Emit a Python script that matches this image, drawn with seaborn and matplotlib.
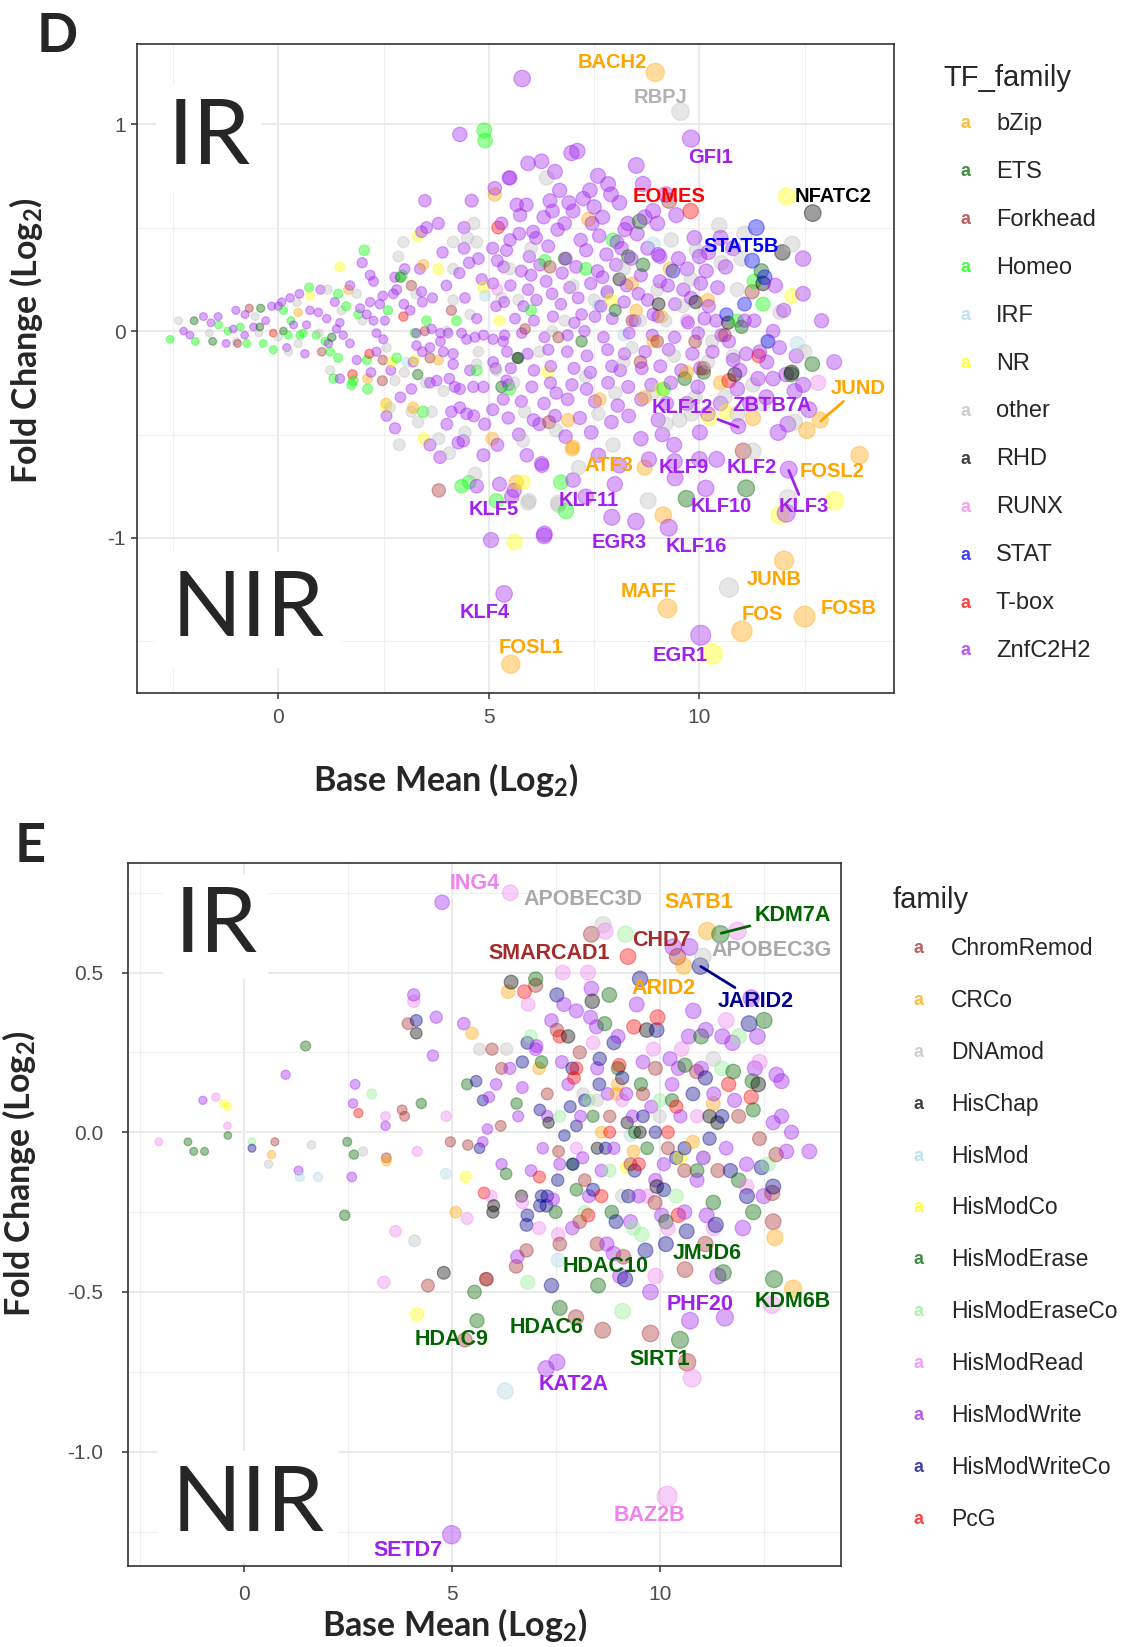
import numpy as np
import pandas as pd
import matplotlib
matplotlib.use("Agg")
import matplotlib.pyplot as plt
import seaborn as sns

sns.set_theme(style="white")
plt.rcParams['font.family'] = ['Liberation Sans', 'DejaVu Sans']
plt.rcParams['mathtext.fontset'] = 'custom'
plt.rcParams['mathtext.rm'] = 'Lato:bold'
plt.rcParams['mathtext.it'] = 'Lato:bold'
plt.rcParams['mathtext.bf'] = 'Lato:bold'

# ------------------------------------------------------------------ Panel D data
d_families = ["bZip", "ETS", "Forkhead", "Homeo", "IRF", "NR", "other", "RHD",
              "RUNX", "STAT", "T-box", "ZnfC2H2"]
d_colors = ["#FFA500", "#006400", "#A52A2A", "#00FF00", "#ADD8E6", "#FFFF00",
            "#BEBEBE", "#000000", "#EE82EE", "#0000FF", "#FF0000", "#A020F0"]

d_bzip = [(8.95, 1.25), (12.87, -0.43), (8.70, -0.66), (13.80, -0.60), (9.24, -1.34),
          (12.01, -1.11), (11.01, -1.45), (12.50, -1.38), (5.52, -1.61),
          (0.47, 0.09), (1.66, 0.20), (2.12, -0.23), (2.56, -0.35), (3.20, -0.37),
          (3.44, 0.32), (3.80, -0.14), (5.14, 0.66), (5.08, -0.52), (5.65, -0.73),
          (6.99, -0.56), (7.37, 0.54), (6.88, -0.43), (6.98, -0.57), (8.70, -0.32),
          (7.63, -0.33), (9.14, -0.89), (10.50, -0.25), (11.27, -0.42), (12.55, -0.48),
          (9.10, 0.07), (8.40, 0.23), (8.90, -0.05), (9.70, -0.20), (8.50, 0.10),
          (9.30, 0.30), (10.20, 0.15)]
d_ets = [(-2.00, 0.05), (-1.56, -0.05), (-0.42, 0.11), (-0.44, 0.02), (0.12, 0.00),
         (1.27, -0.03), (2.90, 0.26), (3.31, -0.21), (5.30, -0.27), (5.70, -0.13),
         (8.58, 0.53), (8.31, 0.36), (8.66, 0.32), (11.47, 0.29), (9.65, -0.23),
         (12.68, -0.16), (12.18, -0.21), (11.11, -0.76), (9.69, -0.81), (7.20, -0.05),
         (8.00, 0.10), (6.80, 0.35), (10.10, -0.20), (11.00, 0.02)]
d_forkhead = [(-0.97, -0.06), (-0.69, 0.11), (1.03, -0.10), (2.47, -0.24), (2.48, -0.14),
              (3.16, 0.22), (3.48, 0.00), (3.60, -0.13), (4.11, 0.10), (3.81, -0.77),
              (6.45, 0.31), (6.43, -0.44), (11.25, 0.19), (11.04, -0.58), (8.40, 0.05),
              (9.00, -0.05), (8.60, -0.15), (9.90, -0.05), (10.10, -0.18), (5.86, 0.01),
              (6.65, -0.03), (9.28, 0.63), (10.60, -0.02)]
d_homeo = [(-2.57, -0.04), (-1.97, -0.05), (-1.42, 0.03), (-1.20, 0.00), (-0.90, 0.02),
           (-0.75, -0.06), (-0.36, -0.06), (-0.12, -0.09), (0.12, 0.10), (0.24, -0.02),
           (0.30, 0.05), (0.51, -0.02), (0.59, -0.01), (0.73, 0.21), (0.90, -0.02),
           (1.11, -0.05), (1.23, -0.10), (1.42, 0.18), (1.61, 0.12), (1.42, -0.13),
           (1.31, -0.23), (1.74, -0.26), (1.78, -0.24), (1.90, 0.08), (2.12, -0.28),
           (2.10, -0.14), (2.04, 0.39), (2.60, 0.10), (2.81, -0.13), (2.94, 0.27),
           (3.24, -0.01), (3.52, 0.05), (4.23, 0.05), (4.71, -0.19), (3.44, -0.39),
           (4.35, -0.75), (4.53, -0.73), (5.18, -0.82), (6.71, -0.73), (6.83, -0.87),
           (4.89, 0.97), (4.91, 0.92), (6.33, 0.34), (7.30, 0.30), (7.95, 0.44),
           (9.15, -0.28), (11.30, 0.24), (11.51, 0.13), (10.89, 0.05), (6.00, 0.10),
           (5.50, -0.28)]
d_irf = [(3.05, -0.15), (4.91, 0.17), (8.90, 0.42), (12.32, -0.06), (8.20, -0.02), (7.60, 0.12)]
d_nr = [(0.75, 0.17), (1.46, 0.31), (2.69, -0.15), (2.56, -0.37), (3.32, 0.46), (3.80, 0.30),
        (3.24, -0.14), (3.46, -0.52), (4.87, 0.21), (5.25, 0.05), (5.61, -1.02), (5.81, -0.73),
        (12.07, 0.65), (12.20, 0.17), (10.64, -0.39), (10.24, -0.42), (13.21, -0.82),
        (11.91, -0.89), (10.30, -1.56), (7.90, 0.15), (6.40, -0.20), (9.10, -0.28)]
d_other = [(-2.37, 0.05), (-1.64, -0.01), (-0.55, 0.07), (-0.47, -0.01), (0.44, 0.14),
           (0.24, -0.10), (0.47, -0.06), (0.97, -0.01), (1.17, 0.20), (1.23, -0.19),
           (1.86, 0.18), (2.57, -0.08), (2.77, -0.24), (2.65, -0.37), (2.85, 0.36),
           (2.97, 0.43), (3.27, 0.18), (2.99, -0.20), (2.87, -0.55), (3.16, -0.39),
           (3.32, -0.44), (3.64, -0.39), (3.81, -0.52), (3.92, -0.29), (4.06, -0.59),
           (4.43, -0.49), (4.15, 0.30), (4.15, 0.43), (4.64, 0.52), (4.49, 0.45),
           (4.71, 0.43), (4.15, 0.15), (4.55, 0.08), (4.75, -0.10), (4.71, -0.16),
           (5.18, -0.19), (5.30, 0.16), (4.67, -0.69), (5.81, -0.53), (5.85, -0.39),
           (5.95, -0.82), (6.65, -0.84), (5.93, -0.83), (6.64, -0.83), (7.13, -0.66),
           (7.95, -0.55), (8.78, -0.82), (9.53, -0.43), (9.81, -0.40), (11.27, -0.26),
           (11.27, -0.58), (12.26, -0.44), (12.10, -0.81), (10.70, -1.24), (9.55, 1.06),
           (6.37, 0.74), (9.33, 0.44), (9.93, 0.39), (10.47, 0.51), (11.07, 0.47),
           (10.52, 0.33), (11.91, 0.09), (5.70, 0.15), (6.20, -0.10), (6.80, 0.05),
           (7.30, -0.22), (7.80, 0.18), (8.20, -0.15), (8.60, 0.05), (8.90, -0.30),
           (9.40, -0.12), (9.60, 0.12), (9.90, -0.32), (10.30, -0.05), (10.60, -0.32),
           (10.90, 0.20), (5.60, -0.25), (6.00, 0.40), (7.00, 0.22), (7.60, -0.40),
           (8.20, 0.30), (9.20, -0.45), (10.80, -0.12), (11.60, -0.05), (6.60, -0.48),
           (8.00, -0.30), (9.00, 0.20), (5.50, 0.30), (6.50, 0.00), (7.50, 0.15),
           (8.40, -0.08), (9.20, 0.05), (9.80, 0.25), (10.20, -0.15), (10.90, -0.40),
           (11.50, -0.35), (12.50, -0.10), (11.00, 0.35), (12.20, 0.42), (4.00, 0.00),
           (3.50, -0.25), (2.00, 0.05), (1.50, 0.10), (0.00, -0.03), (-1.00, -0.05)]
d_rhd = [(12.69, 0.57), (11.97, 0.38), (11.51, 0.23), (10.68, 0.04), (10.84, -0.21),
         (9.03, 0.13), (9.91, 0.14), (5.68, -0.13), (12.19, -0.20), (8.10, 0.25)]
d_runx = [(12.82, -0.25), (9.70, 0.05), (5.20, 0.20)]
d_stat = [(11.35, 0.50), (11.25, 0.34), (11.55, 0.26), (11.07, 0.13), (10.64, 0.08),
          (11.63, -0.05), (9.37, 0.29)]
d_tbox = [(9.79, 0.58), (1.76, -0.21), (2.16, -0.11), (2.97, 0.07), (5.22, 0.50),
          (11.41, -0.12), (10.70, -0.24), (-0.12, -0.01)]
d_znf = [(9.80, 0.93), (10.92, -0.46), (10.01, -0.49), (9.42, -0.71), (10.41, -0.62),
         (12.12, -0.67), (10.15, -0.76), (7.92, -0.90), (5.60, -0.77), (8.49, -0.92),
         (9.27, -0.95), (5.36, -1.27), (10.03, -1.47), (5.79, 1.22), (4.31, 0.95),
         (-2.25, 0.00), (-1.78, 0.07), (-1.43, 0.07), (-1.24, -0.06), (-1.07, 0.01),
         (-1.01, 0.10), (-0.79, 0.08), (-0.59, 0.02), (-0.16, 0.12), (0.00, 0.12),
         (0.28, 0.16), (0.08, 0.14), (0.36, 0.03), (0.63, -0.11), (0.67, 0.03),
         (0.75, 0.10), (0.95, 0.09), (1.15, 0.06), (1.34, 0.14), (1.19, -0.06),
         (1.38, 0.01), (1.46, 0.04), (1.54, -0.02), (1.70, -0.06), (1.46, -0.23),
         (1.86, -0.14), (1.99, 0.33), (2.18, 0.27), (2.26, 0.24), (1.94, 0.11),
         (2.18, 0.14), (2.10, 0.08), (2.26, 0.05), (2.48, 0.17), (2.41, 0.13),
         (2.53, 0.05), (2.33, -0.01), (2.49, -0.04), (2.67, -0.19), (2.33, -0.10),
         (2.73, 0.18), (2.81, 0.20), (2.77, 0.26), (3.40, 0.48), (3.52, 0.50),
         (3.48, 0.63), (3.80, 0.52), (3.36, 0.30), (4.41, 0.50), (4.41, 0.40),
         (4.53, 0.33), (4.59, 0.63), (5.09, 0.40), (5.20, 0.34), (5.14, 0.69),
         (5.48, 0.74), (2.98, 0.13), (3.13, 0.10), (3.40, 0.19), (3.42, 0.14),
         (3.66, 0.16), (3.99, 0.22), (4.43, 0.16), (4.71, 0.06), (4.83, 0.25),
         (5.10, 0.23), (5.17, 0.12), (3.28, -0.01), (3.64, 0.01), (3.85, -0.01),
         (4.03, -0.01), (4.35, -0.01), (4.47, -0.04), (4.67, -0.03), (4.87, -0.02),
         (5.10, -0.04), (5.34, -0.05), (3.28, -0.07), (3.42, -0.10), (3.60, -0.08),
         (3.85, -0.05), (3.92, -0.10), (4.15, -0.11), (3.16, -0.28), (3.60, -0.25),
         (3.76, -0.24), (4.06, -0.23), (4.19, -0.27), (4.31, -0.28), (4.63, -0.27),
         (4.87, -0.27), (4.15, -0.16), (4.55, -0.19), (5.10, -0.15), (5.16, -0.18),
         (5.42, -0.24), (5.34, -0.33), (2.57, -0.41), (2.77, -0.47), (4.11, -0.39),
         (4.31, -0.37), (4.47, -0.40), (4.64, -0.41), (5.09, -0.38), (3.84, -0.61),
         (4.27, -0.54), (4.39, -0.53), (4.87, -0.60), (4.71, -0.75), (5.25, -0.74),
         (5.54, -0.80), (5.05, -1.01), (6.31, -0.99), (6.26, -0.65), (6.32, -0.98),
         (5.93, 0.81), (6.25, 0.82), (6.96, 0.86), (8.50, 0.80), (5.50, 0.74),
         (6.57, 0.77), (6.68, 0.68), (7.59, 0.75), (7.83, 0.71), (7.40, 0.68),
         (7.24, 0.64), (8.66, 0.71), (5.66, 0.61), (5.89, 0.61), (6.45, 0.63),
         (6.51, 0.58), (5.74, 0.56), (9.45, 0.56), (6.05, 0.48), (8.23, 0.49),
         (9.06, 0.36), (12.46, 0.35), (12.46, 0.18), (11.07, 0.05), (11.75, 0.00),
         (12.06, -0.21), (12.46, -0.26), (12.26, -0.29), (11.87, -0.49), (11.59, -0.32),
         (11.43, -0.10), (11.11, -0.11), (10.80, -0.14), (10.96, -0.19), (11.39, -0.23),
         (11.75, -0.23), (6.25, -0.64), (9.41, -0.63), (7.99, -0.74), (12.06, -0.88),
         (7.00, 0.58), (7.70, 0.55), (8.10, 0.62), (8.90, 0.58), (9.20, 0.66),
         (8.30, 0.52), (7.45, 0.52), (6.80, 0.52), (7.10, 0.87),
         (5.72, 0.47), (6.12, 0.45), (6.63, 0.49), (7.18, 0.44), (7.62, 0.46), (8.04, 0.43),
         (8.52, 0.47), (9.88, 0.45), (5.42, 0.39), (5.96, 0.36), (6.41, 0.41), (6.83, 0.35),
         (7.31, 0.39), (7.79, 0.37), (8.38, 0.35), (8.77, 0.40), (9.02, 0.37), (10.21, 0.38),
         (5.35, 0.31), (5.77, 0.29), (6.21, 0.32), (6.74, 0.28), (7.07, 0.31), (7.58, 0.29),
         (8.02, 0.32), (8.61, 0.27), (9.71, 0.30), (10.16, 0.29), (10.62, 0.31),
         (5.51, 0.22), (5.93, 0.20), (6.36, 0.24), (6.92, 0.21), (7.42, 0.23), (7.81, 0.19),
         (8.27, 0.22), (9.06, 0.24), (9.62, 0.20), (10.03, 0.23), (10.43, 0.21),
         (5.36, 0.14), (5.82, 0.12), (6.13, 0.15), (6.71, 0.13), (7.12, 0.16), (7.66, 0.12),
         (8.21, 0.14), (8.77, 0.15), (9.42, 0.13), (10.22, 0.12),
         (5.62, 0.06), (6.07, 0.05), (6.52, 0.07), (7.03, 0.04), (7.52, 0.07), (7.93, 0.06),
         (8.47, 0.05), (9.02, 0.07), (9.73, 0.04), (10.12, 0.06),
         (5.37, -0.02), (5.78, -0.01), (6.32, -0.03), (6.87, -0.02), (7.27, 0.00),
         (7.72, -0.03), (8.33, -0.01), (8.88, -0.02), (9.41, -0.03), (9.97, -0.01), (10.52, -0.02),
         (5.43, -0.10), (5.92, -0.11), (6.41, -0.09), (6.86, -0.10), (7.33, -0.12),
         (7.82, -0.09), (8.22, -0.11), (8.71, -0.10), (9.27, -0.09), (9.83, -0.11), (10.31, -0.10),
         (5.52, -0.18), (6.07, -0.19), (6.47, -0.17), (7.02, -0.18), (7.41, -0.20),
         (7.92, -0.17), (8.12, -0.19), (8.63, -0.18), (9.07, -0.17), (9.57, -0.19), (10.02, -0.18),
         (5.47, -0.26), (6.02, -0.27), (6.46, -0.25), (6.97, -0.26), (7.32, -0.28),
         (7.83, -0.25), (8.31, -0.27), (8.86, -0.26), (9.32, -0.25), (9.96, -0.27),
         (5.77, -0.34), (6.31, -0.35), (6.87, -0.33), (7.52, -0.34), (8.06, -0.36),
         (8.62, -0.33), (9.22, -0.35), (5.46, -0.42), (6.06, -0.43), (6.57, -0.41),
         (7.16, -0.42), (7.91, -0.44), (8.32, -0.41), (9.02, -0.43),
         (5.71, -0.50), (6.82, -0.51), (7.43, -0.49), (8.61, -0.52), (9.12, -0.50),
         (6.30, 0.55), (6.90, 0.62), (7.50, 0.60), (7.90, 0.66), (8.70, 0.55), (9.00, 0.52),
         (5.30, 0.52), (5.50, 0.44), (6.00, 0.27), (6.50, 0.18), (7.20, 0.08), (7.70, 0.26),
         (8.15, 0.40), (8.55, 0.18), (8.90, 0.08), (9.25, 0.22), (9.50, 0.35), (9.80, 0.16),
         (10.00, 0.36), (10.40, 0.05), (10.70, -0.05), (10.90, -0.28), (10.50, -0.35),
         (10.20, -0.40), (11.20, -0.35), (11.60, -0.15), (11.90, -0.08), (12.30, -0.12),
         (12.60, -0.38), (12.00, 0.10), (11.80, 0.22), (11.30, 0.05), (10.80, 0.40),
         (10.50, 0.45), (9.70, -0.35), (9.40, -0.55), (8.80, -0.62), (8.10, -0.65),
         (7.60, -0.60), (7.00, -0.72), (6.60, -0.30), (6.20, -0.45), (5.90, -0.60),
         (5.20, -0.55), (4.90, -0.45), (4.00, -0.45), (3.60, -0.55), (3.20, -0.15),
         (3.00, 0.30), (3.90, 0.38), (4.30, 0.28), (4.75, 0.35), (2.90, -0.32),
         (2.20, -0.20), (1.70, 0.22), (1.00, 0.20), (0.50, 0.18), (0.20, -0.08),
         (-0.30, 0.05), (-0.80, -0.02), (-1.60, 0.04), (-2.10, -0.02), (12.90, 0.05),
         (13.20, -0.15), (12.10, -0.45), (10.00, -0.62), (7.30, -0.80)]

d_label_names = ["BACH2", "RBPJ", "GFI1", "EOMES", "NFATC2", "STAT5B", "JUND", "KLF12",
                 "ZBTB7A", "ATF3", "KLF9", "KLF2", "FOSL2", "KLF5", "KLF11", "KLF10",
                 "KLF3", "EGR3", "KLF16", "JUNB", "MAFF", "KLF4", "FOS", "FOSB", "FOSL1", "EGR1"]
d_label_family = ["bZip", "other", "ZnfC2H2", "T-box", "RHD", "STAT", "bZip", "ZnfC2H2",
                  "ZnfC2H2", "bZip", "ZnfC2H2", "ZnfC2H2", "bZip", "ZnfC2H2", "ZnfC2H2",
                  "ZnfC2H2", "ZnfC2H2", "ZnfC2H2", "ZnfC2H2", "bZip", "bZip", "ZnfC2H2",
                  "bZip", "bZip", "bZip", "ZnfC2H2"]
d_label_x = [7.93, 9.08, 10.27, 9.28, 13.17, 11.00, 13.77, 9.60, 11.72, 7.86, 9.63, 11.25,
             13.14, 5.11, 7.36, 10.52, 12.47, 8.10, 9.93, 11.77, 8.78, 4.89, 11.50, 13.54,
             5.99, 9.55]
d_label_y = [1.30, 1.13, 0.84, 0.65, 0.65, 0.41, -0.28, -0.37, -0.36, -0.65, -0.66, -0.66,
             -0.68, -0.86, -0.82, -0.85, -0.85, -1.02, -1.04, -1.20, -1.26, -1.36, -1.37,
             -1.34, -1.53, -1.57]
d_segments = [("ZnfC2H2", 10.44, -0.427, 10.92, -0.464),
              ("bZip", 13.42, -0.34, 12.88, -0.435),
              ("ZnfC2H2", 12.12, -0.673, 12.36, -0.79)]

# ------------------------------------------------------------------ Panel E data
e_families = ["ChromRemod", "CRCo", "DNAmod", "HisChap", "HisMod", "HisModCo", "HisModErase",
              "HisModEraseCo", "HisModRead", "HisModWrite", "HisModWriteCo", "PcG"]
e_colors = ["#A52A2A", "#FFA500", "#BEBEBE", "#000000", "#ADD8E6", "#FFFF00", "#006400",
            "#90EE90", "#EE82EE", "#A020F0", "#00008B", "#FF0000"]

e_chrom = [(8.36, 0.62), (10.43, 0.55), (0.75, -0.03), (3.81, 0.07), (3.87, 0.05), (3.43, -0.08),
           (4.97, -0.03), (5.39, -0.04), (6.18, 0.02), (3.95, 0.34), (5.97, 0.26), (4.43, -0.48),
           (5.83, -0.46), (5.32, -0.65), (7.02, 0.46), (7.53, 0.32), (7.57, -0.06), (8.08, 0.25),
           (10.89, 0.19), (12.80, -0.07), (12.71, -0.19), (12.73, -0.28), (9.13, -0.39),
           (10.61, -0.43), (9.78, -0.63), (8.63, -0.62), (7.99, -0.58), (7.60, -0.35),
           (6.55, -0.42), (5.84, -0.46), (6.80, -0.37), (8.08, -0.28), (9.89, -0.22),
           (10.66, -0.72), (8.80, 0.05), (9.30, -0.10), (9.60, 0.12), (10.20, -0.05),
           (11.40, -0.12), (8.20, -0.15), (11.90, 0.05), (12.40, -0.02), (7.30, 0.12), (6.20, 0.20),
           (8.50, -0.35), (9.90, 0.20), (11.10, -0.35), (10.60, -0.12)]
e_crco = [(11.14, 0.63), (10.58, 0.52), (0.67, -0.07), (3.43, -0.09), (5.49, 0.31), (5.10, -0.25),
          (6.36, 0.44), (12.77, -0.33), (13.21, -0.49), (9.00, 0.15), (8.60, 0.00), (10.80, -0.03),
          (9.37, -0.06), (8.97, 0.12), (11.29, 0.09), (7.10, 0.20)]
e_dna = [(8.64, 0.65), (11.04, 0.55), (0.60, -0.10), (1.63, -0.04), (2.87, -0.06), (4.11, -0.34),
         (5.67, 0.26), (6.32, 0.26), (11.29, 0.23), (11.05, -0.08), (8.16, 0.12), (8.50, 0.10),
         (10.00, 0.05), (9.10, -0.20)]
e_chap = [(4.15, 0.31), (4.81, -0.44), (5.99, -0.25), (6.43, 0.47), (7.80, 0.30), (8.38, 0.41),
          (9.69, 0.32), (7.33, 0.03), (6.68, -0.20), (6.01, -0.23), (12.37, 0.15), (9.53, 0.00),
          (9.93, -0.17), (11.39, 0.03), (9.22, 0.03), (8.50, -0.05), (11.20, 0.05)]
e_hismod = [(1.35, -0.14), (1.79, -0.14), (4.86, -0.13), (6.29, -0.81), (7.56, -0.40), (9.30, -0.01)]
e_hismodco = [(-0.48, 0.09), (-0.38, 0.08), (5.34, -0.14), (4.17, -0.57), (10.49, -0.08), (9.21, -0.11)]
e_erase = [(11.46, 0.62), (8.52, -0.48), (11.53, -0.44), (12.75, -0.46), (5.61, -0.59),
           (7.60, -0.55), (10.49, -0.65), (-1.34, -0.03), (-1.20, -0.06), (-0.94, -0.06),
           (-0.38, -0.01), (1.49, 0.27), (2.49, -0.03), (2.65, -0.07), (2.43, -0.26), (4.27, 0.09),
           (5.37, 0.15), (5.55, -0.50), (7.02, 0.48), (8.79, 0.43), (8.68, 0.34), (7.16, 0.22),
           (6.56, 0.09), (6.31, -0.13), (10.61, 0.21), (11.77, 0.19), (12.23, 0.16), (12.25, 0.07),
           (12.51, 0.35), (12.25, -0.25), (11.29, -0.22), (8.40, 0.05), (9.00, 0.20), (9.70, -0.05),
           (10.30, 0.10), (7.90, -0.10), (9.40, 0.00), (10.90, -0.12), (8.00, -0.18), (8.85, -0.25),
           (9.55, 0.15), (10.15, -0.28), (11.00, 0.30), (11.90, -0.15), (7.50, -0.25)]
e_eraseco = [(0.20, -0.03), (3.08, 0.12), (6.83, -0.47), (9.11, -0.56), (9.37, -0.30),
             (9.57, -0.32), (9.18, 0.62), (8.20, -0.25), (10.00, 0.10), (7.60, 0.05),
             (11.50, 0.20), (8.80, -0.12), (12.60, -0.10), (6.90, 0.30), (10.40, -0.20),
             (8.30, 0.10), (11.90, 0.30)]
e_read = [(6.41, 0.75), (10.18, -1.14), (-2.04, -0.03), (-0.67, 0.11), (-0.39, 0.02), (3.41, 0.05),
          (4.17, -0.06), (4.87, 0.05), (5.95, -0.20), (5.37, -0.27), (3.65, -0.31), (3.37, -0.47),
          (4.09, 0.41), (6.84, 0.40), (7.67, 0.50), (8.28, 0.50), (9.85, 0.26), (10.53, 0.26),
          (12.09, -0.17), (12.70, -0.54), (10.78, -0.77), (11.87, 0.63), (8.69, 0.63),
          (7.56, -0.32), (9.10, 0.10), (10.20, -0.30), (8.00, -0.05), (11.30, -0.30),
          (6.70, -0.22), (9.90, -0.45), (8.40, 0.28), (9.70, -0.20), (10.90, 0.05),
          (11.60, 0.35), (12.40, 0.22), (7.10, -0.30)]
e_write = [(10.73, -0.59), (7.53, -0.72), (5.00, -1.26), (-0.98, 0.10), (1.01, 0.18), (1.32, -0.12),
           (2.68, 0.15), (2.63, 0.09), (2.60, -0.14), (3.41, 0.02), (4.09, 0.43), (4.63, 0.36),
           (5.29, 0.34), (4.55, 0.24), (6.07, 0.15), (5.90, 0.11), (5.86, 0.01), (5.75, -0.03),
           (4.77, 0.72), (7.02, 0.26), (6.70, 0.14), (7.19, -0.05), (6.91, -0.12), (7.44, -0.21),
           (8.36, 0.45), (8.34, 0.36), (8.48, 0.33), (10.81, 0.38), (10.33, 0.58), (10.72, 0.58),
           (11.11, 0.32), (11.51, 0.30), (11.75, 0.28), (12.35, 0.30), (7.04, 0.27), (10.25, 0.23),
           (12.29, 0.20), (12.81, 0.18), (12.93, 0.16), (12.73, 0.03), (12.93, 0.05), (13.17, 0.00),
           (13.60, -0.06), (13.05, -0.06), (12.09, -0.10), (8.73, -0.35), (8.89, -0.38),
           (9.78, -0.50), (11.57, -0.58), (6.58, -0.39), (10.05, -0.26), (11.13, -0.26),
           (7.27, -0.74), (7.80, 0.15), (8.10, 0.05), (8.50, 0.20), (8.90, -0.05), (9.20, 0.12),
           (9.50, -0.20), (9.80, 0.08), (10.10, -0.10), (10.50, 0.05), (10.90, -0.15), (11.30, 0.12),
           (7.60, -0.10), (8.30, -0.20), (9.00, 0.30), (9.60, 0.22), (10.60, -0.25), (11.60, -0.05),
           (12.00, -0.30), (7.90, -0.30), (8.60, -0.12), (9.30, -0.28), (10.30, 0.15), (11.00, 0.20),
           (6.40, 0.20), (6.20, -0.10), (6.60, 0.05), (7.40, 0.35), (7.70, 0.40), (8.00, 0.38),
           (9.45, 0.40), (7.30, 0.05), (8.15, -0.08), (8.75, 0.12), (9.35, 0.05), (9.90, -0.15),
           (10.45, 0.20), (11.05, -0.08), (11.80, 0.10), (12.50, -0.20), (7.65, 0.22),
           (10.70, 0.30), (12.20, 0.42), (9.05, -0.45), (11.40, -0.45)]
e_writeco = [(10.98, 0.52), (0.20, -0.05), (4.15, 0.35), (5.59, 0.16), (5.75, 0.10), (5.67, -0.05),
             (7.53, 0.43), (6.82, 0.28), (6.70, 0.22), (7.12, 0.07), (7.71, -0.01), (7.92, -0.10),
             (7.55, -0.15), (7.16, -0.20), (7.30, -0.20), (6.82, -0.26), (9.53, 0.48), (8.56, 0.23),
             (9.93, 0.32), (12.15, 0.34), (12.45, -0.11), (12.73, -0.17), (10.15, -0.35),
             (10.65, -0.31), (9.66, -0.37), (9.17, -0.46), (7.40, -0.48), (6.80, -0.29),
             (7.12, -0.23), (7.28, -0.23), (11.35, -0.29), (8.20, 0.10), (8.70, -0.05), (9.10, 0.17),
             (9.40, -0.12), (9.90, 0.00), (10.40, -0.08), (10.80, 0.12), (11.20, -0.02), (8.40, -0.18),
             (8.00, 0.02), (9.60, 0.05), (11.10, 0.17), (10.10, -0.18), (8.90, 0.28), (7.90, 0.20),
             (11.70, -0.12), (7.85, 0.08), (8.55, 0.15), (9.25, -0.20), (10.60, -0.05),
             (11.50, 0.05), (12.10, -0.20), (8.95, -0.28)]
e_pcg = [(2.76, 0.06), (5.78, -0.19), (6.75, 0.44), (7.11, -0.14), (9.24, 0.55), (9.38, 0.33),
         (9.95, 0.36), (9.03, 0.21), (7.94, 0.17), (11.66, 0.15), (12.20, 0.11), (8.28, -0.26),
         (10.45, -0.26), (8.00, 0.20), (8.80, 0.00), (9.50, -0.10), (10.40, 0.08),
         (7.60, 0.30), (8.60, -0.20), (10.20, 0.00)]

e_label_names = ["ING4", "APOBEC3D", "SATB1", "KDM7A", "SMARCAD1", "CHD7", "APOBEC3G", "ARID2",
                 "JARID2", "HDAC10", "JMJD6", "PHF20", "KDM6B", "HDAC9", "HDAC6", "SIRT1",
                 "KAT2A", "BAZ2B", "SETD7"]
e_label_family = ["HisModRead", "DNAmod", "CRCo", "HisModErase", "ChromRemod", "ChromRemod",
                  "DNAmod", "CRCo", "HisModWriteCo", "HisModErase", "HisModErase", "HisModWrite",
                  "HisModErase", "HisModErase", "HisModErase", "HisModErase", "HisModWrite",
                  "HisModRead", "HisModWrite"]
e_label_x = [5.56, 8.16, 10.93, 13.21, 7.35, 10.03, 12.70, 10.10, 12.30, 8.71, 11.14, 10.98,
             13.21, 5.00, 7.27, 10.00, 7.93, 9.75, 3.96]
e_label_y = [0.78, 0.73, 0.72, 0.68, 0.56, 0.60, 0.57, 0.45, 0.41, -0.42, -0.38, -0.54,
             -0.53, -0.65, -0.61, -0.71, -0.79, -1.20, -1.31]
e_segments = [("HisModErase", 12.17, 0.646, 11.48, 0.623),
              ("HisModWriteCo", 11.81, 0.453, 10.99, 0.519)]

# ------------------------------------------------------------------ helpers
W, H = 1146, 1647
fig = plt.figure(figsize=(W / 100, H / 100), dpi=100)
fig.patch.set_facecolor("white")


def build_df(groups, fams, base, coef_x, coef_y):
    rows = []
    for fam, pts in zip(fams, groups):
        for x, y in pts:
            rows.append((x, y, fam))
    df = pd.DataFrame(rows, columns=["base_mean", "fold_change", "family"])
    # marker diameter (pixels) grows with expression level and |fold change|
    diam = base + coef_x * df["base_mean"].clip(lower=0) + coef_y * df["fold_change"].abs()
    df["msize"] = (diam * 0.72) ** 2
    df = df.sort_values("base_mean", kind="mergesort").reset_index(drop=True)
    return df


def style_axes(ax, xlim, ylim, xmaj, xmin, ymaj, ymin, ytl, tsize, xpad, ypad):
    ax.set_xlim(*xlim)
    ax.set_ylim(*ylim)
    ax.set_xticks(xmaj)
    ax.set_xticks(xmin, minor=True)
    ax.set_yticks(ymaj)
    ax.set_yticklabels(ytl)
    ax.set_yticks(ymin, minor=True)
    ax.grid(which="major", color="#EBEBEB", lw=1.5)
    ax.grid(which="minor", color="#F0F0F0", lw=0.8)
    ax.set_axisbelow(True)
    for sp in ax.spines.values():
        sp.set_color("#333333")
        sp.set_linewidth(1.2)
        sp.set_visible(True)
    ax.tick_params(which="major", direction="out", length=4, width=1.1, color="#333333",
                   labelcolor="#4D4D4D", labelsize=tsize, bottom=True, left=True)
    ax.tick_params(axis="x", which="major", pad=xpad)
    ax.tick_params(axis="y", which="major", pad=ypad)
    ax.tick_params(which="minor", length=0)
    ax.set_xlabel("")
    ax.set_ylabel("")


def ftext(px, py, s, **kw):
    fig.text(px / W, 1 - py / H, s, **kw)


# ------------------------------------------------------------------ Panel D
axD = fig.add_axes([137 / W, 1 - 693 / H, (894 - 137) / W, (693 - 44) / H])
dfD = build_df([d_bzip, d_ets, d_forkhead, d_homeo, d_irf, d_nr, d_other, d_rhd, d_runx,
                d_stat, d_tbox, d_znf], d_families, 7.5, 0.5, 5.0)
palD = dict(zip(d_families, d_colors))
smin, smax = dfD["msize"].min(), dfD["msize"].max()
sns.scatterplot(data=dfD, x="base_mean", y="fold_change", hue="family", palette=palD,
                size="msize", sizes=(smin, smax), size_norm=(smin, smax),
                alpha=0.38, edgecolor="face", linewidth=0.9, legend=False, ax=axD, zorder=3)
style_axes(axD, (-3.357, 14.62), (-1.749, 1.387), [0, 5, 10], [-2.5, 2.5, 7.5, 12.5],
           [-1, 0, 1], [-1.5, -0.5, 0.5], ["-1", "0", "1"], 15, 7, 4)
for fam, x0, y0, x1, y1 in d_segments:
    axD.plot([x0, x1], [y0, y1], color=palD[fam], lw=2, zorder=4)
for name, fam, lx, ly in zip(d_label_names, d_label_family, d_label_x, d_label_y):
    col = "#B3B3B3" if fam == "other" else palD[fam]
    axD.text(lx, ly, name, color=col, fontsize=14.5, fontweight="bold",
             ha="center", va="center", zorder=5, family=["Liberation Sans", "DejaVu Sans"])
axD.text(-1.65, 0.93, "IR", fontsize=66, family=["Lato", "DejaVu Sans"], ha="center",
         va="center", zorder=2, bbox=dict(facecolor="white", edgecolor="none", pad=8))
axD.text(-0.71, -1.35, "NIR", fontsize=66, family=["Lato", "DejaVu Sans"], ha="center",
         va="center", zorder=2, bbox=dict(facecolor="white", edgecolor="none", pad=12))

# ------------------------------------------------------------------ Panel E
axE = fig.add_axes([128 / W, 1 - 1566 / H, (841 - 128) / W, (1566 - 863) / H])
dfE = build_df([e_chrom, e_crco, e_dna, e_chap, e_hismod, e_hismodco, e_erase, e_eraseco,
                e_read, e_write, e_writeco, e_pcg], e_families, 7.5, 0.5, 6.5)
palE = dict(zip(e_families, e_colors))
smin, smax = dfE["msize"].min(), dfE["msize"].max()
sns.scatterplot(data=dfE, x="base_mean", y="fold_change", hue="family", palette=palE,
                size="msize", sizes=(smin, smax), size_norm=(smin, smax),
                alpha=0.38, edgecolor="face", linewidth=0.9, legend=False, ax=axE, zorder=3)
style_axes(axE, (-2.78, 14.36), (-1.358, 0.843), [0, 5, 10], [-2.5, 2.5, 7.5, 12.5],
           [-1.0, -0.5, 0.0, 0.5], [-1.25, -0.75, -0.25, 0.25, 0.75],
           ["-1.0", "-0.5", "0.0", "0.5"], 15, 10, 14)
for fam, x0, y0, x1, y1 in e_segments:
    axE.plot([x0, x1], [y0, y1], color=palE[fam], lw=2, zorder=4)
for name, fam, lx, ly in zip(e_label_names, e_label_family, e_label_x, e_label_y):
    col = "#A9A9A9" if fam == "DNAmod" else palE[fam]
    axE.text(lx, ly, name, color=col, fontsize=15.5, fontweight="bold",
             ha="center", va="center", zorder=5, family=["Liberation Sans", "DejaVu Sans"])
axE.text(-0.67, 0.645, "IR", fontsize=66, family=["Lato", "DejaVu Sans"], ha="center",
         va="center", zorder=2, bbox=dict(facecolor="white", edgecolor="none", pad=8))
axE.text(0.10, -1.17, "NIR", fontsize=66, family=["Lato", "DejaVu Sans"], ha="center",
         va="center", zorder=2, bbox=dict(facecolor="white", edgecolor="none", pad=10))

# ------------------------------------------------------------------ titles / letters
bold_font = ["Lato", "DejaVu Sans"]
ftext(57, 37, "D", fontsize=39, fontweight="bold", family=bold_font, ha="center", va="center")
ftext(30, 847, "E", fontsize=39, fontweight="bold", family=bold_font, ha="center", va="center")
ftext(446, 780, "Base Mean (Log$_2$)", fontsize=24.5, fontweight="bold", family=bold_font,
      ha="center", va="center")
ftext(455, 1625, "Base Mean (Log$_2$)", fontsize=24.5, fontweight="bold", family=bold_font,
      ha="center", va="center")
ftext(26, 341, "Fold Change (Log$_2$)", fontsize=24.5, fontweight="bold", family=bold_font,
      ha="center", va="center", rotation=90)
ftext(19, 1174, "Fold Change (Log$_2$)", fontsize=24.5, fontweight="bold", family=bold_font,
      ha="center", va="center", rotation=90)

# ------------------------------------------------------------------ legends
leg_font = ["Liberation Sans", "DejaVu Sans"]
ftext(943, 78, "TF_family", fontsize=21, family=leg_font, ha="left", va="center")
for i, (fam, col) in enumerate(zip(d_families, d_colors)):
    yy = 124 + i * 47.9
    ftext(966, yy, "a", fontsize=13, fontweight="bold", color=col, alpha=0.75,
          family=leg_font, ha="center", va="center")
    ftext(996, yy, fam, fontsize=17, family=leg_font, ha="left", va="center")

ftext(893, 900, "family", fontsize=21, family=leg_font, ha="left", va="center")
for i, (fam, col) in enumerate(zip(e_families, e_colors)):
    yy = 948.5 + i * 51.9
    ftext(919, yy, "a", fontsize=13, fontweight="bold", color=col, alpha=0.75,
          family=leg_font, ha="center", va="center")
    ftext(951, yy, fam, fontsize=16.5, family=leg_font, ha="left", va="center")

fig.savefig("out.png", dpi=100, facecolor="white")
